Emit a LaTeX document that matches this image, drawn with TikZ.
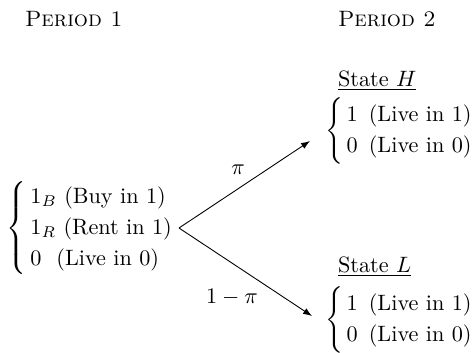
\documentclass[tikz,border=0pt]{standalone}
\usepackage{amsmath}
\usetikzlibrary{arrows.meta}
\begin{document}
\begin{tikzpicture}[x=0.45pt,y=-0.45pt,
  lbl/.style={inner sep=0pt,outer sep=0pt},
  grp/.style={inner sep=0pt,outer sep=0pt,anchor=west},
  arr/.style={-{Latex[length=4pt,width=3pt]},line width=0.4pt}]
\useasboundingbox (0,0) rectangle (476,352);
\renewcommand{\arraystretch}{1.17}
\node[lbl,anchor=base west] (p1) at (25,26) {\textsc{Period 1}};
\node[lbl,anchor=base west] (p2) at (338,26) {\textsc{Period 2}};
\node[lbl,anchor=base west] (sH) at (338,86) {\underline{State $H$}};
\node[lbl,anchor=base west] (sL) at (338,272) {\underline{State $L$}};
\node[grp] (g1) at (7,228) {$\left\{\begin{tabular}{@{\,}l@{}}$1_B$ (Buy in 1)\\ $1_R$ (Rent in 1)\\ $0$\enspace\,(Live in 0)\end{tabular}\right.$};
\node[grp] (gH) at (325,131) {$\left\{\begin{tabular}{@{\,}l@{}}$1$\enspace(Live in 1)\\ $0$\enspace(Live in 0)\end{tabular}\right.$};
\node[grp] (gL) at (325,320) {$\left\{\begin{tabular}{@{\,}l@{}}$1$\enspace(Live in 1)\\ $0$\enspace(Live in 0)\end{tabular}\right.$};
\coordinate (o) at (179,228);
\coordinate (tH) at (310,141);
\coordinate (tL) at (312,316);
\draw[arr] (o) -- (tH);
\draw[arr] (o) -- (tL);
\node[lbl] (pi) at (238,170) {$\pi$};
\node[lbl] (mpi) at (232,297) {$1-\pi$};
\end{tikzpicture}
\end{document}
